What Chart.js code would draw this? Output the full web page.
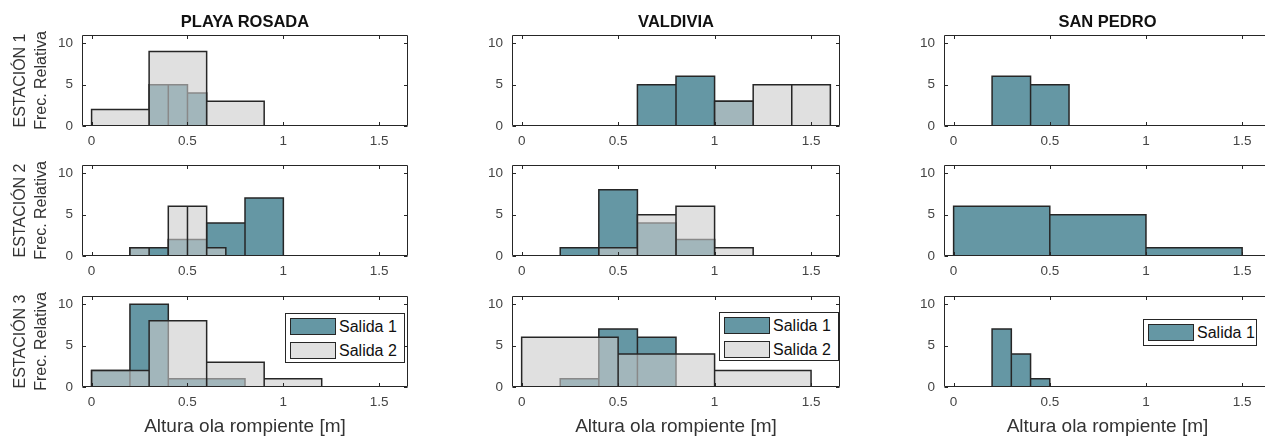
<!DOCTYPE html>
<html>
<head>
<meta charset="utf-8">
<script src="https://cdn.jsdelivr.net/npm/chart.js@4.4.1/dist/chart.umd.min.js"></script>
<style>
  html, body { margin: 0; padding: 0; background: #fff; overflow: hidden; }
  #fig { position: relative; width: 1265px; height: 437px; overflow: hidden; background: #fff;
         font-family: "Liberation Sans", Arial, Helvetica, sans-serif; }
  .panel { position: absolute; }
  .ttl { position: absolute; font-weight: bold; font-size: 16.5px; line-height: 20px; color: #111;
         text-align: center; white-space: nowrap; }
  .leg { position: absolute; background: #fff; border: 1px solid #262626; box-sizing: border-box; }
  .leg .sw { position: absolute; box-sizing: border-box; border: 1.5px solid #262626; }
  .leg .lab { position: absolute; font-size: 16px; color: #111; white-space: nowrap; }
</style>
</head>
<body>
<div id="fig"></div>
<script>
// ---- names and tick labels ----
const sites = ['PLAYA ROSADA', 'VALDIVIA', 'SAN PEDRO'];
const stations = ['ESTACIÓN 1', 'ESTACIÓN 2', 'ESTACIÓN 3'];
const seriesNames = ['Salida 1', 'Salida 2'];
const xTicks = [0, 0.5, 1, 1.5];
const xTickLabels = ['0', '0.5', '1', '1.5'];
const yTicks = [0, 5, 10];
const yTickLabels = ['0', '5', '10'];
const xLabel = 'Altura ola rompiente [m]';
const yLabel = 'Frec. Relativa';

// ---- histogram bins: edges [m] and counts ----
// Playa Rosada
const prE1Salida1Edges = [0.3, 0.4, 0.5, 0.6];
const prE1Salida1Counts = [5, 5, 4];
const prE1Salida2Edges = [0, 0.3, 0.6, 0.9];
const prE1Salida2Counts = [2, 9, 3];
const prE2Salida1Edges = [0.2, 0.4, 0.6, 0.8, 1.0];
const prE2Salida1Counts = [1, 2, 4, 7];
const prE2Salida2Edges = [0.2, 0.3, 0.4, 0.5, 0.6, 0.7];
const prE2Salida2Counts = [1, 0, 6, 6, 1];
const prE3Salida1Edges = [0, 0.2, 0.4, 0.6, 0.8];
const prE3Salida1Counts = [2, 10, 1, 1];
const prE3Salida2Edges = [0, 0.3, 0.6, 0.9, 1.2];
const prE3Salida2Counts = [2, 8, 3, 1];
// Valdivia
const vaE1Salida1Edges = [0.6, 0.8, 1.0, 1.2];
const vaE1Salida1Counts = [5, 6, 3];
const vaE1Salida2Edges = [1.0, 1.2, 1.4, 1.6];
const vaE1Salida2Counts = [3, 5, 5];
const vaE2Salida1Edges = [0.2, 0.4, 0.6, 0.8, 1.0];
const vaE2Salida1Counts = [1, 8, 4, 2];
const vaE2Salida2Edges = [0.4, 0.6, 0.8, 1.0, 1.2];
const vaE2Salida2Counts = [1, 5, 6, 1];
const vaE3Salida1Edges = [0.2, 0.4, 0.6, 0.8];
const vaE3Salida1Counts = [1, 7, 6];
const vaE3Salida2Edges = [0, 0.5, 1.0, 1.5];
const vaE3Salida2Counts = [6, 4, 2];
// San Pedro (Salida 1 only)
const spE1Salida1Edges = [0.2, 0.4, 0.6];
const spE1Salida1Counts = [6, 5];
const spE2Salida1Edges = [0, 0.5, 1.0, 1.5];
const spE2Salida1Counts = [6, 5, 1];
const spE3Salida1Edges = [0.2, 0.3, 0.4, 0.5];
const spE3Salida1Counts = [7, 4, 1];

const panels = [
  { row: 0, col: 0, s1: [prE1Salida1Edges, prE1Salida1Counts], s2: [prE1Salida2Edges, prE1Salida2Counts] },
  { row: 1, col: 0, s1: [prE2Salida1Edges, prE2Salida1Counts], s2: [prE2Salida2Edges, prE2Salida2Counts] },
  { row: 2, col: 0, s1: [prE3Salida1Edges, prE3Salida1Counts], s2: [prE3Salida2Edges, prE3Salida2Counts] },
  { row: 0, col: 1, s1: [vaE1Salida1Edges, vaE1Salida1Counts], s2: [vaE1Salida2Edges, vaE1Salida2Counts] },
  { row: 1, col: 1, s1: [vaE2Salida1Edges, vaE2Salida1Counts], s2: [vaE2Salida2Edges, vaE2Salida2Counts] },
  { row: 2, col: 1, s1: [vaE3Salida1Edges, vaE3Salida1Counts], s2: [vaE3Salida2Edges, vaE3Salida2Counts] },
  { row: 0, col: 2, s1: [spE1Salida1Edges, spE1Salida1Counts], s2: null },
  { row: 1, col: 2, s1: [spE2Salida1Edges, spE2Salida1Counts], s2: null },
  { row: 2, col: 2, s1: [spE3Salida1Edges, spE3Salida1Counts], s2: null }
];

// ---- look ----
const teal = 'rgb(101,151,164)';
const greyFill = 'rgba(204,204,204,0.6)';
const edge = '#262626';
const axisInk = '#262626';
const tickInk = '#444';
const fontFamily = '"Liberation Sans", Arial, Helvetica, sans-serif';

// ---- figure geometry (plot areas in page pixels) ----
const colLeft = [82, 512, 944];
const colWidth = [326, 328, 327];
const rowTop = [35, 165, 296];
const rowHeight = 91;
const padL = 82, padT = 35, padR = 12;
const padB = [50, 50, 56];

// legend boxes: [left, top, width, height]
const legendBoxes = [
  { row: 2, col: 0, rect: [285, 313, 120, 50], names: seriesNames },
  { row: 2, col: 1, rect: [719, 312, 120, 49], names: seriesNames },
  { row: 2, col: 2, rect: [1143, 319, 114, 27], names: [seriesNames[0]] }
];

// Histogram outline: every bin is closed down to zero so each bar keeps its own edges.
function binOutline(edges, counts) {
  const pts = [];
  counts.forEach((c, i) => {
    pts.push({ x: edges[i], y: 0 }, { x: edges[i], y: c },
             { x: edges[i + 1], y: c }, { x: edges[i + 1], y: 0 });
  });
  return pts;
}

// Axes box with inward tick marks on all four sides.
const axesBox = {
  id: 'axesBox',
  afterDraw(chart) {
    const { ctx, chartArea: a, scales: { x, y } } = chart;
    const L = Math.round(a.left) + 0.5, R = Math.round(a.right) - 0.5;
    const T = Math.round(a.top) + 0.5, B = Math.round(a.bottom) - 0.5;
    const len = 3.5;
    ctx.save();
    ctx.strokeStyle = axisInk;
    ctx.lineWidth = 1;
    ctx.beginPath();
    ctx.rect(L, T, R - L, B - T);
    x.ticks.forEach(t => {
      const px = Math.round(x.getPixelForValue(t.value)) + 0.5;
      ctx.moveTo(px, B); ctx.lineTo(px, B - len);
      ctx.moveTo(px, T); ctx.lineTo(px, T + len);
    });
    y.ticks.forEach(t => {
      const py = Math.round(y.getPixelForValue(t.value)) + 0.5;
      ctx.moveTo(L, py); ctx.lineTo(L + len, py);
      ctx.moveTo(R, py); ctx.lineTo(R - len, py);
    });
    ctx.stroke();
    ctx.restore();
  }
};

const fig = document.getElementById('fig');

panels.forEach(p => {
  const w = padL + colWidth[p.col] + padR;
  const h = padT + rowHeight + padB[p.row];
  const holder = document.createElement('div');
  holder.className = 'panel';
  holder.style.left = (colLeft[p.col] - padL) + 'px';
  holder.style.top = (rowTop[p.row] - padT) + 'px';
  holder.style.width = w + 'px';
  holder.style.height = h + 'px';
  const cv = document.createElement('canvas');
  cv.width = w; cv.height = h;
  cv.style.width = w + 'px'; cv.style.height = h + 'px';
  holder.appendChild(cv);
  fig.appendChild(holder);

  const datasets = [{
    label: seriesNames[0],
    data: binOutline(p.s1[0], p.s1[1]),
    backgroundColor: teal,
    borderColor: edge,
    borderWidth: 1.5,
    fill: 'origin',
    order: 2
  }];
  if (p.s2) {
    datasets.push({
      label: seriesNames[1],
      data: binOutline(p.s2[0], p.s2[1]),
      backgroundColor: greyFill,
      borderColor: edge,
      borderWidth: 1.5,
      fill: 'origin',
      order: 1
    });
  }

  new Chart(cv, {
    type: 'line',
    data: { datasets },
    options: {
      responsive: false,
      animation: false,
      events: [],
      layout: { padding: { left: 0, top: padT, right: padR, bottom: 0 } },
      elements: {
        point: { radius: 0 },
        line: { tension: 0, borderJoinStyle: 'miter', borderCapStyle: 'butt' }
      },
      plugins: { legend: { display: false }, tooltip: { enabled: false } },
      scales: {
        x: {
          type: 'linear', min: -0.05, max: 1.65,
          afterBuildTicks: s => { s.ticks = xTicks.map(v => ({ value: v })); },
          afterFit: s => { s.height = padB[p.row]; },
          grid: { display: false, drawTicks: false },
          border: { display: false },
          ticks: {
            autoSkip: false, maxRotation: 0, padding: 7, color: tickInk,
            font: { family: fontFamily, size: 13.5 },
            callback: (v, i) => xTickLabels[i]
          },
          title: {
            display: p.row === 2, text: xLabel, color: '#333',
            font: { family: fontFamily, size: 19, lineHeight: 1.2 },
            padding: { top: 0, bottom: 5 }
          }
        },
        y: {
          min: 0, max: 11,
          afterBuildTicks: s => { s.ticks = yTicks.map(v => ({ value: v })); },
          afterFit: s => { s.width = padL; },
          grid: { display: false, drawTicks: false },
          border: { display: false },
          ticks: {
            padding: 9, color: tickInk,
            font: { family: fontFamily, size: 13.5 },
            callback: (v, i) => yTickLabels[i]
          },
          title: {
            display: p.col === 0, text: [stations[p.row], yLabel], color: '#333',
            font: { family: fontFamily, size: 16, lineHeight: 1.3 },
            padding: { top: 10.5, bottom: 0 }
          }
        }
      }
    },
    plugins: [axesBox]
  });
});

// column titles
sites.forEach((name, c) => {
  const d = document.createElement('div');
  d.className = 'ttl';
  d.textContent = name;
  d.style.left = colLeft[c] + 'px';
  d.style.width = colWidth[c] + 'px';
  d.style.top = '11px';
  fig.appendChild(d);
});

// legends
const swatchFill = [teal, 'rgb(224,224,224)'];
legendBoxes.forEach(lb => {
  const [lx, ly, lw, lh] = lb.rect;
  const box = document.createElement('div');
  box.className = 'leg';
  box.style.left = lx + 'px'; box.style.top = ly + 'px';
  box.style.width = lw + 'px'; box.style.height = lh + 'px';
  lb.names.forEach((n, i) => {
    const top = 4 + i * 23.5;
    const sw = document.createElement('div');
    sw.className = 'sw';
    sw.style.left = '4px'; sw.style.top = top + 'px';
    sw.style.width = '46px'; sw.style.height = '17px';
    sw.style.background = swatchFill[i];
    box.appendChild(sw);
    const t = document.createElement('div');
    t.className = 'lab';
    t.textContent = n;
    t.style.left = '53px'; t.style.top = top + 'px';
    t.style.lineHeight = '17px';
    box.appendChild(t);
  });
  fig.appendChild(box);
});
</script>
</body>
</html>
